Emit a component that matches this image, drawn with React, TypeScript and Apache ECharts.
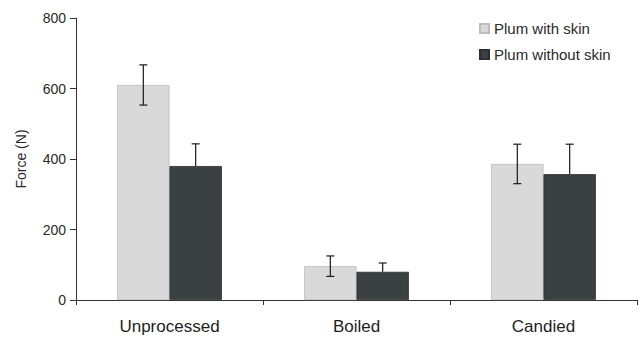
import React, { useEffect, useRef } from "react";
import * as echarts from "echarts";

const categories = ["Unprocessed", "Boiled", "Candied"];
const seriesNames = ["Plum with skin", "Plum without skin"];
const withSkin = [610, 96, 386];
const withSkinErr = [57, 29, 56];
const withoutSkin = [380, 80, 357];
const withoutSkinErr = [63, 25, 85];
const yTicks = [0, 200, 400, 600, 800];

const FONT = "'Liberation Sans', Arial, sans-serif";
const LIGHT = "#d9d9d9";
const DARK = "#3b4141";

export default function App() {
  const ref = useRef<HTMLDivElement>(null);
  useEffect(() => {
    if (!ref.current) return;
    const chart = echarts.init(ref.current, null, { renderer: "svg" });
    const errItem = (offset: number, fullBar: boolean) => (params: any, api: any) => {
      const c = api.value(0);
      const m = api.value(1);
      const e = api.value(2);
      const bw = api.size([1, 0])[0];
      const top = api.coord([c, m + e]);
      const mid = api.coord([c, m]);
      const bot = api.coord([c, m - e]);
      const x = top[0] + offset * bw;
      const cap = 4;
      const style = { stroke: "#1a1a1a", lineWidth: 1.2 };
      const children: any[] = [
        { type: "line", shape: { x1: x, y1: top[1], x2: x, y2: fullBar ? bot[1] : mid[1] }, style },
        { type: "line", shape: { x1: x - cap, y1: top[1], x2: x + cap, y2: top[1] }, style },
      ];
      if (fullBar) {
        children.push({ type: "line", shape: { x1: x - cap, y1: bot[1], x2: x + cap, y2: bot[1] }, style });
      }
      return { type: "group", children };
    };
    chart.setOption({
      animation: false,
      backgroundColor: "#ffffff",
      textStyle: { fontFamily: FONT },
      grid: { left: 76, right: 4, top: 18, bottom: 43 },
      legend: {
        data: seriesNames,
        orient: "vertical",
        left: 474,
        top: 15,
        itemWidth: 9,
        itemHeight: 9,
        itemGap: 9,
        icon: "rect",
        textStyle: { fontFamily: FONT, fontSize: 15, color: "#2a2a2a", lineHeight: 17 },
      },
      xAxis: {
        type: "category",
        data: categories,
        axisLine: { show: true, lineStyle: { color: "#333", width: 1 } },
        axisTick: { show: true, alignWithLabel: false, length: 5, lineStyle: { color: "#333" } },
        axisLabel: { fontFamily: FONT, fontSize: 17, color: "#1e1e1e", margin: 18 },
      },
      yAxis: {
        type: "value",
        min: yTicks[0],
        max: yTicks[yTicks.length - 1],
        interval: 200,
        name: "Force (N)",
        nameLocation: "middle",
        nameGap: 48,
        nameTextStyle: { fontFamily: FONT, fontSize: 14, color: "#2a2a2a" },
        axisLine: { show: true, lineStyle: { color: "#333", width: 1 } },
        axisTick: { show: true, length: 6, lineStyle: { color: "#333" } },
        axisLabel: { fontFamily: FONT, fontSize: 14, color: "#2a2a2a", margin: 10 },
        splitLine: { show: false },
      },
      series: [
        {
          name: seriesNames[0],
          type: "bar",
          data: withSkin,
          barWidth: "28%",
          barGap: "0%",
          itemStyle: { color: LIGHT, borderColor: "#bdbdbd", borderWidth: 0.8 },
        },
        {
          name: seriesNames[1],
          type: "bar",
          data: withoutSkin,
          barWidth: "28%",
          barGap: "0%",
          itemStyle: { color: DARK, borderColor: "#2a2e2e", borderWidth: 0.8 },
        },
        {
          name: "errWith",
          type: "custom",
          renderItem: errItem(-0.14, true),
          data: withSkin.map((v, i) => [i, v, withSkinErr[i]]),
          encode: { x: 0, y: 1 },
          z: 5,
        },
        {
          name: "errWithout",
          type: "custom",
          renderItem: errItem(0.14, false),
          data: withoutSkin.map((v, i) => [i, v, withoutSkinErr[i]]),
          encode: { x: 0, y: 1 },
          z: 5,
        },
      ],
    });
    return () => chart.dispose();
  }, []);
  return <div ref={ref} style={{ width: 641, height: 343, position: "absolute", left: 0, top: 0 }} />;
}
